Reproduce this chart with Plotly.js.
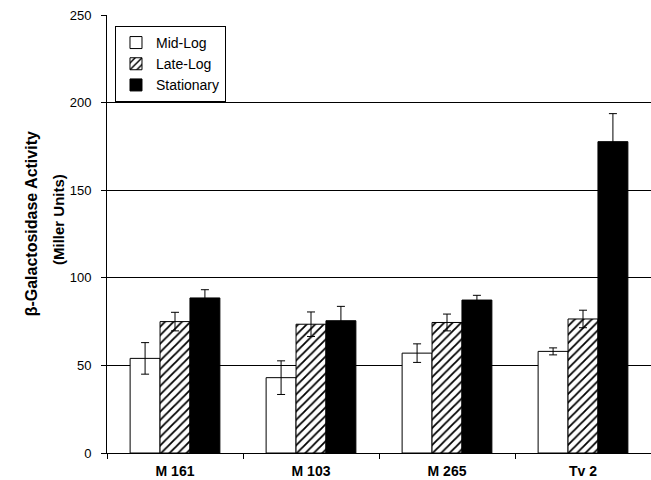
<!DOCTYPE html>
<html>
<head>
<meta charset="utf-8">
<script src="https://cdn.plot.ly/plotly-3.0.1.min.js"></script>
<style>html,body{margin:0;padding:0;background:#fff;}#chart{width:651px;height:480px;}</style>
</head>
<body>
<div id="chart"></div>
<script>
var categories = ["M 161", "M 103", "M 265", "Tv 2"];
var seriesNames = ["Mid-Log", "Late-Log", "Stationary"];
var midLog = [54, 43, 57, 58];
var midLogErr = [9, 9.6, 5.3, 2];
var lateLog = [75, 73.5, 74.5, 76.5];
var lateLogErr = [5.3, 7, 4.8, 5];
var stationary = [88.5, 75.5, 87.3, 177.7];
var stationaryErr = [4.7, 8.2, 2.7, 16];
var yTicks = [0, 50, 100, 150, 200, 250];

var font = "Liberation Sans, Arial, sans-serif";
function errBar(arr) {
  return {type: "data", array: arr, visible: true, color: "#000", thickness: 1, width: 4};
}
var traces = [
  {type: "bar", name: seriesNames[0], x: categories, y: midLog, error_y: errBar(midLogErr),
   marker: {color: "#fff", line: {color: "#000", width: 1}}},
  {type: "bar", name: seriesNames[1], x: categories, y: lateLog, error_y: errBar(lateLogErr),
   marker: {color: "#fff", line: {color: "#000", width: 1},
            pattern: {shape: "/", fgcolor: "#000", bgcolor: "#fff", size: 6, solidity: 0.3}}},
  {type: "bar", name: seriesNames[2], x: categories, y: stationary, error_y: errBar(stationaryErr),
   marker: {color: "#000", line: {color: "#000", width: 1}}}
];

var layout = {
  width: 651, height: 480,
  margin: {l: 107, r: 0, t: 15, b: 27},
  paper_bgcolor: "#fff", plot_bgcolor: "#fff",
  barmode: "group", bargap: 0.34, bargroupgap: 0,
  showlegend: true,
  legend: {x: 0.0147, y: 0.975, xanchor: "left", yanchor: "top",
           bordercolor: "#000", borderwidth: 1, bgcolor: "#fff",
           font: {family: font, size: 14, color: "#000"}, tracegroupgap: 0},
  xaxis: {showline: true, linecolor: "#000", linewidth: 1, ticks: "outside", tickson: "boundaries",
          ticklen: 5, tickcolor: "#000", showgrid: false, zeroline: false, ticklabelstandoff: 5,
          tickfont: {family: font, size: 14, color: "#000", weight: "bold"}},
  yaxis: {range: [0, 250], tickvals: yTicks, ticktext: yTicks.map(String),
          showline: true, linecolor: "#000", linewidth: 1, ticks: "outside", ticklen: 5, tickcolor: "#000",
          showgrid: true, gridcolor: "#000", gridwidth: 1, zeroline: false, ticklabelstandoff: 7,
          tickfont: {family: font, size: 13, color: "#000"}},
  annotations: [
    {text: "<b>β-Galactosidase Activity</b>", textangle: -90, xref: "paper", yref: "paper",
     x: -0.1397, y: 0.522, xanchor: "center", yanchor: "middle", showarrow: false,
     font: {family: font, size: 16, color: "#000"}},
    {text: "<b>(Miller Units)</b>", textangle: -90, xref: "paper", yref: "paper",
     x: -0.0882, y: 0.532, xanchor: "center", yanchor: "middle", showarrow: false,
     font: {family: font, size: 15, color: "#000"}}
  ]
};
Plotly.newPlot("chart", traces, layout, {displayModeBar: false, staticPlot: true});
</script>
</body>
</html>
